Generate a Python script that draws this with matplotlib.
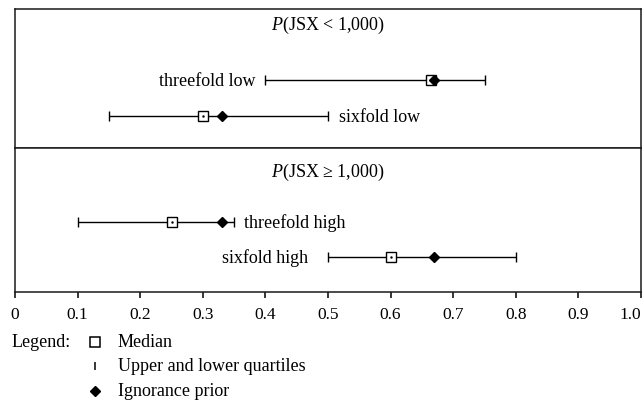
import matplotlib.pyplot as plt

plt.rcParams['font.family'] = ['Liberation Serif', 'DejaVu Serif']
plt.rcParams['mathtext.fontset'] = 'custom'
plt.rcParams['mathtext.rm'] = 'Liberation Serif'
plt.rcParams['mathtext.it'] = 'Liberation Serif:italic'

# P(JSX < 1,000) panel
LOW_LABELS = ['threefold low', 'sixfold low']
LOW_Q1 = [0.40, 0.15]
LOW_MEDIAN = [0.665, 0.30]
LOW_PRIOR = [0.67, 0.33]
LOW_Q3 = [0.75, 0.50]

# P(JSX >= 1,000) panel
HIGH_LABELS = ['threefold high', 'sixfold high']
HIGH_Q1 = [0.10, 0.50]
HIGH_MEDIAN = [0.25, 0.60]
HIGH_PRIOR = [0.33, 0.67]
HIGH_Q3 = [0.35, 0.80]

X_TICKS = [0, 0.1, 0.2, 0.3, 0.4, 0.5, 0.6, 0.7, 0.8, 0.9, 1.0]
X_TICK_LABELS = ['0', '0.1', '0.2', '0.3', '0.4', '0.5', '0.6', '0.7', '0.8', '0.9', '1.0']

FS = 13
LW = 1.0

W, H = 644, 402
fig = plt.figure(figsize=(W / 100, H / 100), dpi=100)

left, right = 15 / W, 641 / W
ax_top = fig.add_axes([left, 1 - 149 / H, right - left, 139 / H])
ax_bot = fig.add_axes([left, 1 - 293 / H, right - left, 144 / H])


def draw_panel(ax, title, labels, q1, med, prior, q3, rows, sides, gaps, title_y):
    ax.set_xlim(0, 1)
    ax.set_ylim(1, 0)
    ax.text(0.5, title_y, title, ha='center', va='center', fontsize=FS)
    for i in range(len(labels)):
        y = rows[i]
        ax.errorbar([med[i]], [y], xerr=[[med[i] - q1[i]], [q3[i] - med[i]]],
                    fmt='none', ecolor='black', elinewidth=LW, capsize=3.6,
                    capthick=LW, zorder=2)
        ax.plot(med[i], y, marker='s', markersize=7.4, markerfacecolor='white',
                markeredgecolor='black', markeredgewidth=1.0, linestyle='none', zorder=3)
        ax.plot(med[i], y, marker='.', markersize=1.5, color='black', zorder=3)
        ax.plot(prior[i], y, marker='D', markersize=5.5, color='black',
                linestyle='none', zorder=4)
        if sides[i] == 'left':
            ax.annotate(labels[i], xy=(q1[i], y), xytext=(-gaps[i], -5),
                        textcoords='offset pixels', ha='right', va='baseline', fontsize=FS)
        else:
            ax.annotate(labels[i], xy=(q3[i], y), xytext=(gaps[i], -5),
                        textcoords='offset pixels', ha='left', va='baseline', fontsize=FS)
    for s in ax.spines.values():
        s.set_linewidth(1.1)
        s.set_color('#1a1a1a')


draw_panel(ax_top, r'$\it{P}$(JSX < 1,000)', LOW_LABELS, LOW_Q1, LOW_MEDIAN,
           LOW_PRIOR, LOW_Q3, [0.511, 0.77], ['left', 'right'], [10, 11], 0.108)
draw_panel(ax_bot, r'$\it{P}$(JSX ≥ 1,000)', HIGH_LABELS, HIGH_Q1, HIGH_MEDIAN,
           HIGH_PRIOR, HIGH_Q3, [0.514, 0.757], ['right', 'left'], [10, 20], 0.16)

ax_top.set_xticks([])
ax_top.set_yticks([])
ax_bot.set_yticks([])
ax_bot.set_xticks(X_TICKS)
ax_bot.set_xticklabels(X_TICK_LABELS, fontsize=12.5)
ax_bot.get_xticklabels()[-1].set_ha('right')
ax_bot.tick_params(axis='x', direction='out', length=4, width=1.1, pad=6)

# legend below the axis
lg = fig.add_axes([0, 0, 1, 1])
lg.set_xlim(0, W)
lg.set_ylim(H, 0)
lg.axis('off')
fig.text(12 / W, 1 - 343 / H, 'Legend:', ha='left', va='center', fontsize=FS)
lg.plot(95, 343, marker='s', markersize=7.5, markerfacecolor='white',
        markeredgecolor='black', markeredgewidth=1.1, linestyle='none')
lg.plot(95, 367, marker='|', markersize=6, color='black', markeredgewidth=1.1,
        linestyle='none')
lg.plot(95, 392, marker='D', markersize=5, color='black', linestyle='none')
legend_items = ['Median', 'Upper and lower quartiles', 'Ignorance prior']
for txt, yy in zip(legend_items, [343, 367, 392]):
    fig.text(118 / W, 1 - yy / H, txt, ha='left', va='center', fontsize=FS)

fig.savefig('out.png', dpi=100)
